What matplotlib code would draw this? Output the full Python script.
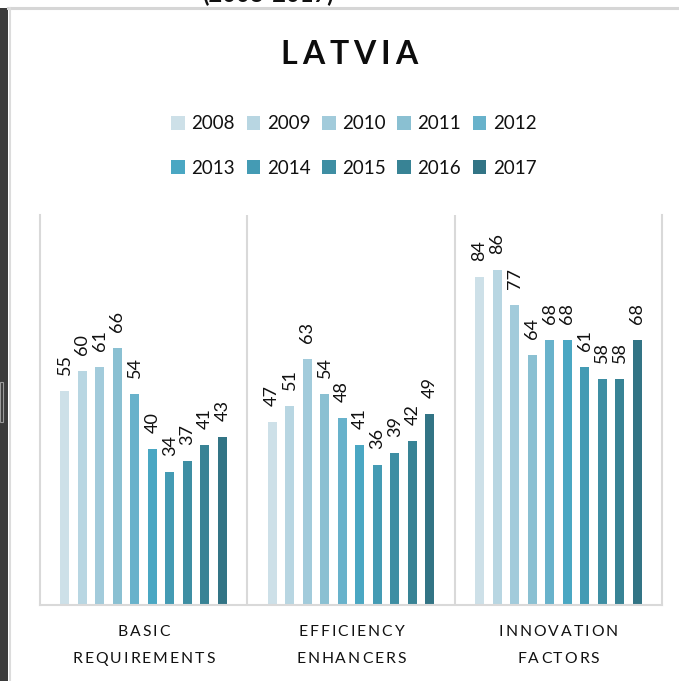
import matplotlib
matplotlib.use("Agg")
import matplotlib.pyplot as plt
from matplotlib.patches import Patch, Rectangle
from matplotlib.lines import Line2D
from matplotlib.font_manager import FontProperties
import numpy as np

plt.rcParams['font.family'] = ['Lato', 'DejaVu Sans']

categories = ["BASIC\nREQUIREMENTS", "EFFICIENCY\nENHANCERS", "INNOVATION\nFACTORS"]
years = ["2008", "2009", "2010", "2011", "2012", "2013", "2014", "2015", "2016", "2017"]
basic = [55, 60, 61, 66, 54, 40, 34, 37, 41, 43]
efficiency = [47, 51, 63, 54, 48, 41, 36, 39, 42, 49]
innovation = [84, 86, 77, 64, 68, 68, 61, 58, 58, 68]
colors = ["#cde0e8", "#b8d6e2", "#a2cbdb", "#8ac0d2", "#68b2cb",
          "#4aa7c3", "#449bb4", "#3e8ea3", "#388395", "#327485"]

W, H = 679, 681
fig = plt.figure(figsize=(W / 100, H / 100), dpi=100)
fig.patch.set_facecolor("white")


def fx(px):
    return px / W


def fy(py):
    return 1 - py / H


# Page decorations: dark left strip, frame lines, clipped subtitle
fig.add_artist(Rectangle((0, 0), fx(8), fy(8), transform=fig.transFigure,
                         facecolor="#3b3b3b", edgecolor="none"))
fig.add_artist(Rectangle((0, fy(422)), fx(2.5), (422 - 382) / H, transform=fig.transFigure,
                         facecolor="none", edgecolor="#9a9a9a", lw=0.8))
fig.add_artist(Line2D([fx(8), 1], [fy(7.5), fy(7.5)], transform=fig.transFigure,
                      color="#d6d6d6", lw=2.2))
fig.add_artist(Line2D([fx(10), fx(10)], [0, fy(7.5)], transform=fig.transFigure,
                      color="#dcdcdc", lw=1.5))
fig.text(fx(268), fy(2), "(2008-2017)", ha="center", va="baseline",
         fontsize=17, fontweight="bold", color="#111111")

renderer = fig.canvas.get_renderer()
FAM = ['Lato', 'DejaVu Sans']


def char_widths(s, size, weight="normal"):
    prop = FontProperties(family=FAM, size=size, weight=weight)
    return [renderer.get_text_width_height_descent(ch, prop, ismath=False)[0] for ch in s]


def spaced_text(cx, cy, s, spacing, **kw):
    """Place letter-spaced text centered at (cx, cy) pixels (cy = vertical center)."""
    widths = char_widths(s, kw.get("fontsize", 12), kw.get("fontweight", "normal"))
    total = sum(widths) + spacing * (len(s) - 1)
    x = cx - total / 2
    for ch, w in zip(s, widths):
        fig.text(fx(x), fy(cy), ch, ha="left", va="center", **kw)
        x += w + spacing


spaced_text(349, 55, "LATVIA", 5.0, fontsize=23, fontweight="bold", color="#0d0d0d")

ax = fig.add_axes([fx(40), fy(605), (662 - 40) / W, (605 - 215) / H])
ax.set_xlim(-0.5, 2.5)
ax.set_ylim(0, 100)
ax.set_xticks([])
ax.set_yticks([])
for side in ["left", "right", "bottom"]:
    ax.spines[side].set_color("#d9d9d9")
    ax.spines[side].set_linewidth(1.5)
ax.spines["top"].set_visible(False)
for sep in [0.5, 1.5]:
    ax.axvline(sep, color="#d9d9d9", lw=1.5, zorder=0)

data = np.array([basic, efficiency, innovation])
x = np.arange(len(categories))
step = 0.0845
bw = 0.0435
for i, yr in enumerate(years):
    pos = x + (i - 4.5) * step
    vals = data[:, i]
    ax.bar(pos, vals, width=bw, color=colors[i], label=yr, zorder=2)
    for p, v in zip(pos, vals):
        ax.annotate(str(v), (p, v), xytext=(0, 11.5), textcoords="offset points",
                    rotation=90, ha="center", va="bottom", fontsize=13, color="#111111")

# category labels (letter-spaced, two lines); spacing calibrated so that
# "REQUIREMENTS" is about 142 px wide like the reference
cat_size = 11.3
ref_w = char_widths("REQUIREMENTS", cat_size)
cat_spacing = max(0.5, (142 - sum(ref_w)) / 11)
for ci, cat in enumerate(categories):
    cx_px = 40 + (ci + 0.5) * (662 - 40) / 3
    l1, l2 = cat.split("\n")
    spaced_text(cx_px, 632, l1, cat_spacing, fontsize=cat_size, color="#111111")
    spaced_text(cx_px, 659, l2, cat_spacing, fontsize=cat_size, color="#111111")

# legend filled row by row (matplotlib fills columns, so interleave)
order = [0, 5, 1, 6, 2, 7, 3, 8, 4, 9]
handles = [Patch(facecolor=colors[k], edgecolor="none") for k in order]
labels = [years[k] for k in order]
fig.legend(handles, labels, ncol=5, loc="center", bbox_to_anchor=(fx(354), fy(146)),
           frameon=False, fontsize=13.5, handlelength=0.72, handleheight=0.72,
           handletextpad=0.35, columnspacing=0.62, labelspacing=1.45,
           labelcolor="#111111", borderpad=0)

fig.savefig("out.png", dpi=100, facecolor="white")
